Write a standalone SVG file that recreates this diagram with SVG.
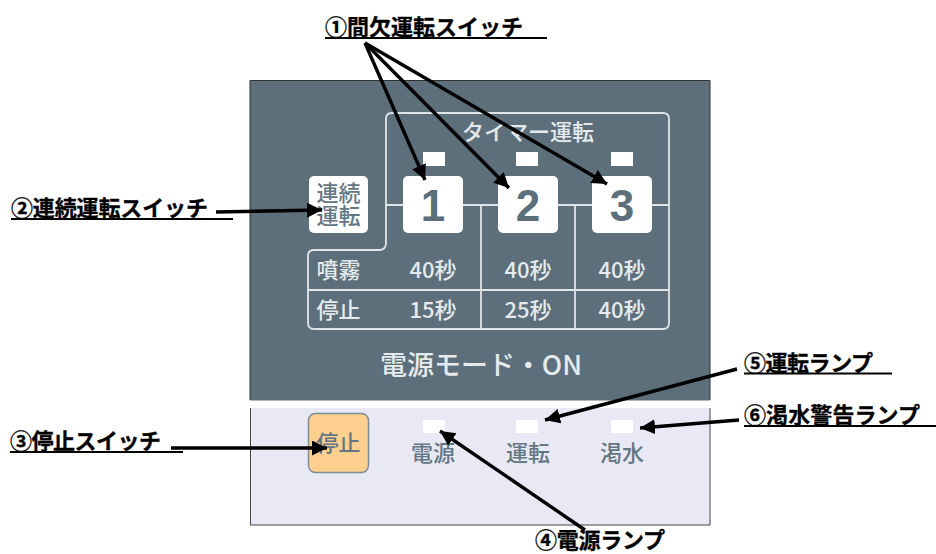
<svg xmlns="http://www.w3.org/2000/svg" width="936" height="554" viewBox="0 0 936 554">
<style>
text{font-family:"Noto Sans CJK JP","Liberation Sans",sans-serif}
.lab{font-size:22px;font-weight:700;fill:#000;stroke:#000;stroke-width:.3}
.ul{stroke:#000;stroke-width:2;fill:none}
.lt{font-size:22px;fill:#e6eaec;text-anchor:middle;font-weight:500}
.dk{font-size:22px;fill:#637682;text-anchor:middle;font-weight:500}
.num{font-size:44px;font-weight:700;fill:#5c6f7b;text-anchor:middle;font-family:"Liberation Sans",sans-serif}
.frame{fill:none;stroke:#dfe4e7;stroke-width:1.800}
.btn{fill:#fff}
.lamp{fill:#fff}
.arr{stroke:#000;stroke-width:3.400;fill:none;marker-end:url(#ah)}
</style>
<defs>
<marker id="ah" markerUnits="userSpaceOnUse" markerWidth="18" markerHeight="16" refX="15" refY="7.500" orient="auto">
<path d="M0 0L15 7.500L0 15Z" fill="#000"/>
</marker>
</defs>
<rect width="936" height="554" fill="#fff"/>
<g id="panel-top">
<rect x="250" y="80.500" width="460" height="320" fill="#5c6f7b"/>
<path d="M250 400V80.500H710V400" fill="none" stroke="#333" stroke-width="1"/>
</g>
<g id="panel-bottom">
<rect x="250" y="408" width="460" height="117" fill="#e9e9f5"/>
<path d="M250.500 408V525H710V408" fill="none" stroke="#444" stroke-width="1"/>
</g>
<g id="timer-frame">
<path class="frame" d="M386 243V119q0-6 6-6H663q6 0 6 6V323q0 6-6 6H314q-6 0-6-6V256q0-6 6-6H379q7 0 7-7"/>
<path class="frame" d="M308 290H669M481 205V329M575 205V329M386 205H404M463 205H499M557 205H593M652 205H669"/>
<text class="lt" x="528" y="140">タイマー運転</text>
</g>
<g id="lamps-top">
<rect class="lamp" x="423" y="152" width="22" height="14"/>
<rect class="lamp" x="516" y="152" width="22" height="14"/>
<rect class="lamp" x="611" y="152" width="22" height="14"/>
</g>
<g id="switch-continuous">
<rect class="btn" x="309" y="176" width="59" height="57" rx="5"/>
<text class="dk"><tspan x="338.500" y="201">連続</tspan><tspan x="338.500" y="224">運転</tspan></text>
</g>
<g id="switch-1"><rect class="btn" x="403" y="176" width="60" height="57" rx="5"/><text class="num" x="433" y="221">1</text></g>
<g id="switch-2"><rect class="btn" x="498" y="176" width="60" height="57" rx="5"/><text class="num" x="528" y="221">2</text></g>
<g id="switch-3"><rect class="btn" x="592" y="176" width="60" height="57" rx="5"/><text class="num" x="622" y="221">3</text></g>
<g id="table">
<text class="lt" x="338.500" y="278">噴霧</text>
<text class="lt" x="433" y="278">40秒</text>
<text class="lt" x="528" y="278">40秒</text>
<text class="lt" x="622" y="278">40秒</text>
<text class="lt" x="338.500" y="318">停止</text>
<text class="lt" x="433" y="318">15秒</text>
<text class="lt" x="528" y="318">25秒</text>
<text class="lt" x="622" y="318">40秒</text>
</g>
<g id="power-mode"><text x="380" y="375" font-size="27" font-weight="500" fill="#e6eaec" textLength="202" lengthAdjust="spacing">電源モード・ON</text></g>
<g id="switch-stop">
<rect x="308.500" y="413.500" width="60" height="59" rx="7" fill="#fdd08f" stroke="#7c8d96" stroke-width="1.500"/>
<text class="dk" x="338.500" y="451">停止</text>
</g>
<g id="lamp-power"><rect class="lamp" x="423" y="420" width="22" height="13"/><text class="dk" x="433" y="461">電源</text></g>
<g id="lamp-run"><rect class="lamp" x="516" y="420" width="22" height="13"/><text class="dk" x="528" y="461">運転</text></g>
<g id="lamp-water"><rect class="lamp" x="611" y="420" width="22" height="13"/><text class="dk" x="622" y="461">渇水</text></g>
<g id="connectors">
<line class="arr" x1="365" y1="43" x2="425" y2="180"/>
<line class="arr" x1="365" y1="43" x2="509" y2="188"/>
<line class="arr" x1="365" y1="43" x2="607" y2="184"/>
<line class="arr" x1="216" y1="212" x2="322" y2="210"/>
<line class="arr" x1="171" y1="448" x2="327" y2="448"/>
<line class="arr" x1="585" y1="530" x2="440" y2="431"/>
<line class="arr" x1="737" y1="369" x2="545" y2="420"/>
<line class="arr" x1="739" y1="420" x2="640" y2="428"/>
</g>
<g id="label-1"><text class="lab" x="325" y="35" textLength="198">①間欠運転スイッチ</text><path class="ul" d="M325 38H547"/></g>
<g id="label-2"><text class="lab" x="11" y="216" textLength="197">②連続運転スイッチ</text><path class="ul" d="M11 219H233"/></g>
<g id="label-3"><text class="lab" x="10" y="449" textLength="151">③停止スイッチ</text><path class="ul" d="M10 452H183"/></g>
<g id="label-4"><text class="lab" x="535" y="548" textLength="130">④電源ランプ</text></g>
<g id="label-5"><text class="lab" x="744" y="371" textLength="129">⑤運転ランプ</text><path class="ul" d="M744 373.500H892"/></g>
<g id="label-6"><text class="lab" x="744" y="423" textLength="176">⑥渇水警告ランプ</text><path class="ul" d="M744 426H936"/></g>
</svg>
